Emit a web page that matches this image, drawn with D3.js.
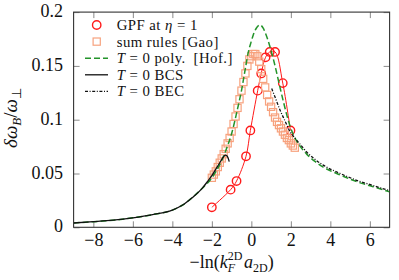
<!DOCTYPE html>
<html>
<head>
<meta charset="utf-8">
<script src="https://cdn.jsdelivr.net/npm/d3@7"></script>
<style>
body { margin: 0; background: #fff; }
text { font-family: "Liberation Serif", serif; fill: #111; }
</style>
</head>
<body>
<div id="chart"></div>
<script>
// values
var gpfX = [-2, -1.05, -0.75, -0.27, -0.05, 0.32, 0.5, 0.72, 0.93, 1.2, 1.59, 1.98];
var gpfY = [0.0186, 0.035, 0.043, 0.066, 0.090, 0.127, 0.143, 0.158, 0.163, 0.163, 0.134, 0.090];

var sumX = [-2.0, -1.9, -1.8, -1.7, -1.6, -1.5, -1.4, -1.3, -1.2, -1.1, -1.0, -0.9, -0.8, -0.7, -0.6,
            -0.5, -0.4, -0.3, -0.2, -0.1, 0.0, 0.1, 0.2, 0.3, 0.4, 0.5, 0.6, 0.7, 0.8, 0.9,
            1.0, 1.1, 1.2, 1.3, 1.4, 1.5, 1.6, 1.7, 1.8, 1.9, 2.0, 2.1, 2.2];
var sumY = [0.046, 0.049, 0.052, 0.056, 0.060, 0.064, 0.068, 0.073, 0.078, 0.083, 0.089, 0.096, 0.103, 0.111, 0.119,
            0.127, 0.135, 0.143, 0.150, 0.156, 0.159, 0.161, 0.161, 0.159, 0.154, 0.147, 0.138, 0.130, 0.123, 0.117,
            0.112, 0.107, 0.102, 0.098, 0.095, 0.092, 0.089, 0.086, 0.083, 0.081, 0.078, 0.076, 0.074];

var polyX = [-9, -8, -7, -6, -5, -4, -3.5, -3, -2.5, -2, -1.5, -1.3, -1, -0.7, -0.5, -0.3, -0.15, 0, 0.1, 0.25,
             0.45, 0.6, 0.7, 0.94, 1.2, 1.4, 1.62, 1.8, 1.96, 2.13, 2.3, 2.5, 2.8, 3.2, 3.64, 4.5, 5.33, 6.17, 7];
var polyY = [0.0040, 0.0052, 0.0066, 0.0088, 0.0118, 0.0160, 0.0205, 0.0275, 0.036, 0.046, 0.062, 0.071, 0.087, 0.110, 0.127, 0.148, 0.163, 0.173, 0.179, 0.185,
             0.188, 0.185, 0.181, 0.168, 0.150, 0.134, 0.117, 0.104, 0.094, 0.086, 0.080, 0.0745, 0.068, 0.0615, 0.056, 0.0486, 0.0424, 0.0377, 0.033];

var bcsX = [-9, -8, -7, -6, -5, -4, -3.5, -3, -2.5, -2.2, -2, -1.8, -1.6, -1.45, -1.32, -1.22, -1.12];
var bcsY = [0.0040, 0.0052, 0.0066, 0.0088, 0.0118, 0.0160, 0.0205, 0.0275, 0.036, 0.043, 0.048, 0.054, 0.060, 0.0645, 0.067, 0.066, 0.061];

var becX = [1.03, 1.2, 1.45, 1.7, 1.96, 2.2, 2.5, 2.8, 3.2, 3.64, 4.5, 5.33, 6.17, 7];
var becY = [0.129, 0.121, 0.109, 0.099, 0.0889, 0.083, 0.0765, 0.0700, 0.0635, 0.0578, 0.0500, 0.0437, 0.0388, 0.0340];

var xTicks = [-8, -6, -4, -2, 0, 2, 4, 6];
var yTicks = [0, 0.05, 0.1, 0.15, 0.2];
var yTickLabels = ['0', '0.05', '0.1', '0.15', '0.2'];

// set the dimensions and margins of the graph
var margin = {top: 12.1, right: 9.4, bottom: 52.7, left: 73.6},
  width = 399 - margin.left - margin.right,
  height = 280 - margin.top - margin.bottom;

var svg = d3.select("#chart")
.append("svg")
  .attr("width", 399)
  .attr("height", 280)
.append("g")
  .attr("transform", "translate(" + margin.left + "," + margin.top + ")");

var x = d3.scaleLinear().domain([-9, 7]).range([0, width]);
var y = d3.scaleLinear().domain([0, 0.2]).range([height, 0]);

// axes with inward ticks on all four sides
var xb = svg.append("g")
  .attr("transform", "translate(0," + height + ")")
  .call(d3.axisBottom(x).tickValues(xTicks).tickSizeInner(-6).tickSizeOuter(0).tickPadding(6.2)
    .tickFormat(function(d) { return d < 0 ? "\u2212" + (-d) : d; }));
var yl = svg.append("g")
  .call(d3.axisLeft(y).tickValues(yTicks).tickSizeInner(-6).tickSizeOuter(0).tickPadding(10.6)
    .tickFormat(function(d, i) { return yTickLabels[i]; }));
svg.append("g")
  .call(d3.axisTop(x).tickValues(xTicks).tickSizeInner(-6).tickSizeOuter(0).tickFormat(""));
svg.append("g")
  .attr("transform", "translate(" + width + ",0)")
  .call(d3.axisRight(y).tickValues(yTicks).tickSizeInner(-6).tickSizeOuter(0).tickFormat(""));

svg.selectAll(".domain").remove();
svg.selectAll(".tick line").attr("stroke", "#8a8a8a").attr("stroke-width", 1);
svg.selectAll(".tick text")
  .style("font-family", "Liberation Serif")
  .style("font-size", "18px")
  .attr("fill", "#111");
yl.selectAll(".tick text").attr("dy", "0.25em");

// lines
var line = d3.line()
  .x(function(d) { return x(d[0]); })
  .y(function(d) { return y(d[1]); });

var gpf = gpfX.map(function(v, i) { return [v, gpfY[i]]; });
var sums = sumX.map(function(v, i) { return [v, sumY[i]]; });
var poly = polyX.map(function(v, i) { return [v, polyY[i]]; });
var bcs = bcsX.map(function(v, i) { return [v, bcsY[i]]; });
var bec = becX.map(function(v, i) { return [v, becY[i]]; });

var red = "#ff1a1a", salmon = "#f7a27e", green = "#23942a";

svg.append("path")
  .datum(gpf)
  .attr("fill", "none").attr("stroke", red).attr("stroke-width", 1)
  .attr("d", line.curve(d3.curveCatmullRom.alpha(0.5)));
svg.selectAll(".gpf")
  .data(gpf).enter()
  .append("circle")
  .attr("cx", function(d) { return x(d[0]); })
  .attr("cy", function(d) { return y(d[1]); })
  .attr("r", 4.2)
  .attr("fill", "none").attr("stroke", red).attr("stroke-width", 1.4);

svg.selectAll(".sum")
  .data(sums).enter()
  .append("rect")
  .attr("x", function(d) { return x(d[0]) - 3.6; })
  .attr("y", function(d) { return y(d[1]) - 3.6; })
  .attr("width", 7.2).attr("height", 7.2)
  .attr("fill", "none").attr("stroke", salmon).attr("stroke-width", 1.2);

svg.append("path")
  .datum(poly)
  .attr("fill", "none").attr("stroke", green).attr("stroke-width", 1.5)
  .attr("stroke-dasharray", "6,3")
  .attr("d", line.curve(d3.curveMonotoneX));

svg.append("path")
  .datum(bcs)
  .attr("fill", "none").attr("stroke", "#111").attr("stroke-width", 1.3)
  .attr("d", line.curve(d3.curveMonotoneX));

svg.append("path")
  .datum(bec)
  .attr("fill", "none").attr("stroke", "#111").attr("stroke-width", 1.3)
  .attr("stroke-dasharray", "3,1.6,1,1.6")
  .attr("d", line.curve(d3.curveMonotoneX));

// frame
svg.append("rect")
  .attr("width", width).attr("height", height)
  .attr("fill", "none").attr("stroke", "#333").attr("stroke-width", 1.1);

// legend
var leg = svg.append("g").attr("transform", "translate(" + (-margin.left) + "," + (-margin.top) + ")");
var rows = [30, 46.6, 63.2, 79.8, 96.4];
leg.append("circle").attr("cx", 96.7).attr("cy", rows[0] - 5).attr("r", 4.2)
  .attr("fill", "none").attr("stroke", red).attr("stroke-width", 1.4);
leg.append("rect").attr("x", 93.1).attr("y", rows[1] - 8.6).attr("width", 7.2).attr("height", 7.2)
  .attr("fill", "none").attr("stroke", salmon).attr("stroke-width", 1.2);
leg.append("line").attr("x1", 85).attr("x2", 108).attr("y1", rows[2] - 5).attr("y2", rows[2] - 5)
  .attr("stroke", green).attr("stroke-width", 1.5).attr("stroke-dasharray", "6,3");
leg.append("line").attr("x1", 85).attr("x2", 108).attr("y1", rows[3] - 5).attr("y2", rows[3] - 5)
  .attr("stroke", "#111").attr("stroke-width", 1.3);
leg.append("line").attr("x1", 85).attr("x2", 108).attr("y1", rows[4] - 5).attr("y2", rows[4] - 5)
  .attr("stroke", "#111").attr("stroke-width", 1.3).attr("stroke-dasharray", "3,1.6,1,1.6");

var labels = [
  [["GPF at ", ""], ["\u03b7", "i"], [" = 1", ""]],
  [["sum rules [Gao]", ""]],
  [["T", "i"], [" = 0 poly.\u2002[Hof.]", ""]],
  [["T", "i"], [" = 0 BCS", ""]],
  [["T", "i"], [" = 0 BEC", ""]]
];
labels.forEach(function(parts, i) {
  var t = leg.append("text").attr("x", 116.7).attr("y", rows[i])
    .style("font-size", "14.8px").style("letter-spacing", "0.45px");
  parts.forEach(function(p) {
    t.append("tspan").text(p[0]).style("font-style", p[1] ? "italic" : "normal");
  });
});

// x axis title
var xt = leg.append("text").attr("x", 0).attr("y", 268).style("font-size", "18px");
xt.append("tspan").text("\u2212ln(");
xt.append("tspan").text("k").style("font-style", "italic");
xt.append("tspan").text("F").style("font-style", "italic").style("font-size", "12px").attr("dy", 4);
xt.append("tspan").text("2D").style("font-size", "12px").attr("dx", -7.2).attr("dy", -12.5);
xt.append("tspan").text("a").style("font-style", "italic").attr("dx", 1.5).attr("dy", 8.5);
xt.append("tspan").text("2D").style("font-size", "12px").attr("dy", 4);
xt.append("tspan").text(")").attr("dy", -4);
var bb = xt.node().getBBox();
xt.attr("x", margin.left + width / 2 - bb.width / 2);

// y axis title
var yt = leg.append("text")
  .attr("transform", "translate(17,118) rotate(-90)")
  .attr("text-anchor", "middle")
  .style("font-size", "19px");
yt.append("tspan").text("\u03b4\u03c9").style("font-style", "italic");
yt.append("tspan").text("B").style("font-style", "italic").style("font-size", "13px").attr("dy", 4);
yt.append("tspan").text("/").attr("dy", -4);
yt.append("tspan").text("\u03c9").style("font-style", "italic");
yt.append("tspan").text("\u22a5").style("font-size", "13px").attr("dy", 4);
</script>
</body>
</html>
